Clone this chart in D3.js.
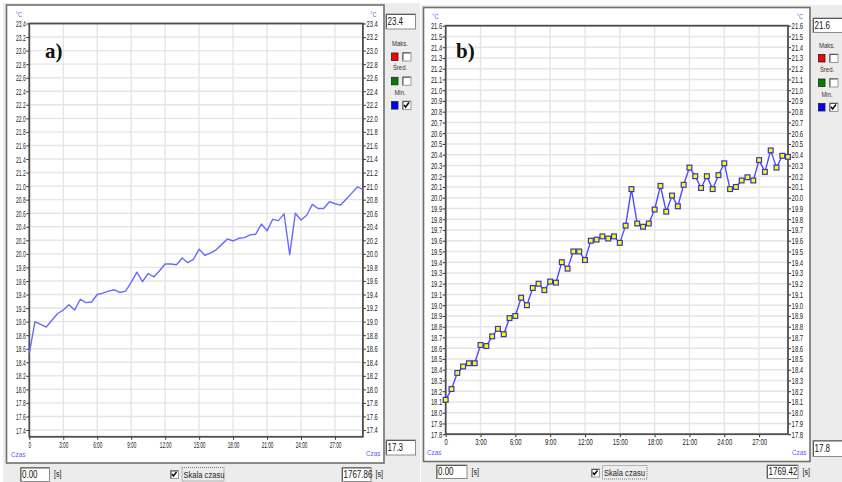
<!DOCTYPE html>
<html>
<head>
<meta charset="utf-8">
<script src="https://cdn.jsdelivr.net/npm/d3@7"></script>
<style>
  body { margin: 0; background: #fff; }
  svg { display: block; font-family: "Liberation Sans", Arial, sans-serif; }
</style>
</head>
<body>
<svg id="chart" width="842" height="482"></svg>
<script>
// ---- shared axis ticks ----
const xTickSeconds = [0, 180, 360, 540, 720, 900, 1080, 1260, 1440, 1620];
const xTickLabels = ["0", "3:00", "6:00", "9:00", "12:00", "15:00", "18:00", "21:00", "24:00", "27:00"];

// ---- panel a) ----
const yTicksA = [17.4, 17.6, 17.8, 18.0, 18.2, 18.4, 18.6, 18.8, 19.0, 19.2, 19.4, 19.6, 19.8, 20.0,
  20.2, 20.4, 20.6, 20.8, 21.0, 21.2, 21.4, 21.6, 21.8, 22.0, 22.2, 22.4, 22.6, 22.8, 23.0, 23.2, 23.4];
const yDomainA = [17.3, 23.4];
const durationA = 1767.86;
const timesA = [0, 30, 60, 90, 120, 150, 180, 210, 240, 270, 300, 330, 360, 390, 420, 450, 480, 510, 540, 570,
  600, 630, 660, 690, 720, 750, 780, 810, 840, 870, 900, 930, 960, 990, 1020, 1050, 1080, 1110, 1140, 1170,
  1200, 1230, 1260, 1290, 1320, 1350, 1380, 1410, 1440, 1470, 1500, 1530, 1560, 1590, 1620, 1650, 1680, 1710, 1740, 1767];
const tempsA = [18.53, 19.00, 18.96, 18.92, 19.02, 19.12, 19.17, 19.25, 19.17, 19.33,
  19.28, 19.29, 19.40, 19.42, 19.45, 19.47, 19.43, 19.45, 19.58, 19.73,
  19.59, 19.71, 19.66, 19.75, 19.85, 19.85, 19.84, 19.94, 19.87, 19.92,
  20.07, 19.98, 20.01, 20.06, 20.14, 20.22, 20.19, 20.23, 20.24, 20.28,
  20.29, 20.44, 20.34, 20.51, 20.49, 20.59, 19.99, 20.60, 20.50, 20.57,
  20.73, 20.67, 20.67, 20.77, 20.74, 20.72, 20.81, 20.90, 20.99, 20.95];

// ---- panel b) ----
const yTicksB = [17.8, 17.9, 18.0, 18.1, 18.2, 18.3, 18.4, 18.5, 18.6, 18.7, 18.8, 18.9, 19.0, 19.1, 19.2,
  19.3, 19.4, 19.5, 19.6, 19.7, 19.8, 19.9, 20.0, 20.1, 20.2, 20.3, 20.4, 20.5, 20.6, 20.7, 20.8, 20.9,
  21.0, 21.1, 21.2, 21.3, 21.4, 21.5, 21.6];
const yDomainB = [17.8, 21.6];
const durationB = 1769.42;
const timesB = [0, 30, 60, 90, 120, 150, 180, 210, 240, 270, 300, 330, 360, 390, 420, 450, 480, 510, 540, 570,
  600, 630, 660, 690, 720, 750, 780, 810, 840, 870, 900, 930, 960, 990, 1020, 1050, 1080, 1110, 1140, 1170,
  1200, 1230, 1260, 1290, 1320, 1350, 1380, 1410, 1440, 1470, 1500, 1530, 1560, 1590, 1620, 1650, 1680, 1710, 1740, 1769];
const tempsB = [18.12, 18.22, 18.37, 18.43, 18.46, 18.46, 18.63, 18.62, 18.71, 18.78,
  18.73, 18.88, 18.90, 19.07, 19.00, 19.16, 19.20, 19.14, 19.22, 19.21,
  19.40, 19.34, 19.50, 19.50, 19.42, 19.60, 19.61, 19.64, 19.62, 19.64,
  19.58, 19.74, 20.08, 19.76, 19.73, 19.76, 19.89, 20.11, 19.87, 20.02,
  19.92, 20.12, 20.28, 20.20, 20.09, 20.20, 20.08, 20.21, 20.32, 20.08,
  20.10, 20.16, 20.19, 20.16, 20.35, 20.24, 20.44, 20.28, 20.39, 20.38];

const legendLabels = ["Maks.", "Śred.", "Min."];
const legendColors = ["#ff0000", "#008000", "#0000ff"];
const legendChecked = [false, false, true];

const svg = d3.select("#chart");

// text squeezed horizontally, anchored at (x, y)
function sText(g, x, y, str, opts) {
  const o = Object.assign({ size: 8, sx: 0.7, anchor: "start", fill: "#222", weight: "normal" }, opts || {});
  return g.append("text")
    .attr("transform", `translate(${x},${y}) scale(${o.sx},1)`)
    .attr("text-anchor", o.anchor)
    .attr("dominant-baseline", "central")
    .attr("font-size", o.size)
    .attr("font-weight", o.weight)
    .attr("fill", o.fill)
    .text(str);
}

function inputBox(g, x, y, w, h, str, sx) {
  g.append("rect").attr("x", x + 0.5).attr("y", y + 0.5).attr("width", w).attr("height", h)
    .attr("fill", "#fff").attr("stroke", "#8c8c8c");
  g.append("path").attr("d", `M${x + 1},${y + h} V${y + 1} H${x + w}`)
    .attr("fill", "none").attr("stroke", "#5a5a5a");
  sText(g, x + 2, y + h / 2 + 0.5, str, { size: 10, sx: sx, fill: "#111" });
}

function checkBox(g, x, y, s, checked) {
  g.append("rect").attr("x", x + 0.5).attr("y", y + 0.5).attr("width", s).attr("height", s)
    .attr("fill", "#fff").attr("stroke", "#9a9a9a");
  g.append("path").attr("d", `M${x + 1},${y + s} V${y + 1} H${x + s}`)
    .attr("fill", "none").attr("stroke", "#555");
  if (checked) {
    g.append("path")
      .attr("d", `M${x + 2},${y + s * 0.5} L${x + s * 0.42},${y + s - 2} L${x + s - 1.5},${y + 2}`)
      .attr("fill", "none").attr("stroke", "#111").attr("stroke-width", 1.6);
  }
}

function drawPanel(cfg) {
  const g = svg.append("g");
  const L = cfg.layout;

  // window background and chart frame
  g.append("rect").attr("x", L.win[0]).attr("y", L.win[1]).attr("width", L.win[2]).attr("height", L.win[3])
    .attr("fill", "#ececec");
  g.append("rect").attr("x", L.frame[0]).attr("y", L.frame[1]).attr("width", L.frame[2]).attr("height", L.frame[3])
    .attr("fill", "#fff").attr("stroke", "#707070").attr("stroke-width", 1.6);

  const x = d3.scaleLinear().domain([0, cfg.duration]).range([L.left, L.right]);
  const y = d3.scaleLinear().domain(cfg.yDomain).range([L.bottom, L.top]);

  // grid
  g.append("g").selectAll("line").data(cfg.yTicks).join("line")
    .attr("x1", L.left).attr("x2", L.right)
    .attr("y1", d => y(d)).attr("y2", d => y(d))
    .attr("stroke", "#e6e6e6").attr("stroke-width", 1.4);
  g.append("g").selectAll("line").data(xTickSeconds.slice(1)).join("line")
    .attr("x1", d => x(d)).attr("x2", d => x(d))
    .attr("y1", L.top).attr("y2", L.bottom)
    .attr("stroke", "#e6e6e6").attr("stroke-width", 1.4);

  // axes
  const fmt = d3.format(".1f");
  const styleAxis = (sel, sx, tx, ty) => {
    sel.select(".domain").remove();
    sel.selectAll(".tick line").attr("stroke", "#333");
    sel.selectAll(".tick text")
      .attr("font-size", 8.5).attr("fill", "#1a1a1a")
      .attr("font-family", "Liberation Sans, Arial, sans-serif")
      .attr("transform", `scale(${sx},1)`)
      .attr("x", tx / sx)
      .attr("dy", null)
      .attr("y", ty)
      .attr("dominant-baseline", "central");
  };
  g.append("g").attr("transform", `translate(${L.left},0)`)
    .call(d3.axisLeft(y).tickValues(cfg.yTicks).tickFormat(fmt).tickSize(3).tickSizeOuter(0))
    .call(s => styleAxis(s, cfg.sxLeft, -3.6, 0));
  g.append("g").attr("transform", `translate(${L.right},0)`)
    .call(d3.axisRight(y).tickValues(cfg.yTicks).tickFormat(fmt).tickSize(3).tickSizeOuter(0))
    .call(s => styleAxis(s, cfg.sxRight, 3.6, 0));
  g.append("g").attr("transform", `translate(0,${L.bottom})`)
    .call(d3.axisBottom(x).tickValues(xTickSeconds).tickFormat((d, i) => xTickLabels[i]).tickSize(3).tickSizeOuter(0))
    .call(s => styleAxis(s, cfg.sxBottom, 0, L.xLabelDy));

  // plot border
  g.append("rect").attr("x", L.left).attr("y", L.top)
    .attr("width", L.right - L.left).attr("height", L.bottom - L.top)
    .attr("fill", "none").attr("stroke", "#4d4d4d").attr("stroke-width", 1.8);

  // measured series
  const pts = cfg.times.map((t, i) => [t, cfg.temps[i]]);
  g.append("path").datum(pts)
    .attr("d", d3.line().x(d => x(d[0])).y(d => y(d[1])))
    .attr("fill", "none").attr("stroke", cfg.lineColor).attr("stroke-width", 1.4)
    .attr("stroke-linejoin", "round");
  if (cfg.markers) {
    g.append("g").selectAll("rect").data(pts).join("rect")
      .attr("x", d => x(d[0]) - 2.4).attr("y", d => y(d[1]) - 2.4)
      .attr("width", 4.8).attr("height", 4.8)
      .attr("fill", "#ffff00").attr("stroke", "#3535c8").attr("stroke-width", 1.2);
  }

  // panel tag
  g.append("text").attr("x", L.tag[0]).attr("y", L.tag[1])
    .attr("font-family", "Liberation Serif, Times New Roman, serif")
    .attr("font-weight", "bold").attr("font-size", 21).attr("fill", "#111")
    .text(cfg.tag);

  // unit and axis captions
  const blue = "#5a5aff";
  sText(g, L.unitL[0], L.unitL[1], "°C", { size: 7.5, sx: 0.75, fill: blue, anchor: "middle" });
  sText(g, L.unitR[0], L.unitR[1], "°C", { size: 7.5, sx: 0.75, fill: blue, anchor: "middle" });
  sText(g, L.czasL[0], L.czasL[1], "Czas", { size: 8, sx: 0.8, fill: blue });
  sText(g, L.czasR[0], L.czasR[1], "Czas", { size: 8, sx: 0.8, fill: blue });

  // side controls
  inputBox(g, L.maxBox[0], L.maxBox[1], L.maxBox[2], L.maxBox[3], fmt(cfg.yDomain[1]), 0.8);
  inputBox(g, L.minBox[0], L.minBox[1], L.minBox[2], L.minBox[3], fmt(cfg.yDomain[0]), 0.8);
  legendLabels.forEach((lab, i) => {
    const yy = L.legendY + i * L.legendStep;
    sText(g, L.legendX + 9, yy, lab, { size: 7, sx: 0.85, fill: "#333", anchor: "middle" });
    g.append("rect").attr("x", L.legendX + 0.5).attr("y", yy + 9.5).attr("width", 6.5).attr("height", 7.5)
      .attr("fill", legendColors[i]).attr("stroke", "#222").attr("stroke-width", 0.8);
    checkBox(g, L.legendX + 11, yy + 8.5, 8.5, legendChecked[i]);
  });

  // bottom controls
  inputBox(g, L.startBox[0], L.startBox[1], L.startBox[2], L.startBox[3], "0.00", 0.8);
  sText(g, L.startBox[0] + L.startBox[2] + 5, L.startBox[1] + L.startBox[3] / 2 + 0.5, "[s]", { size: 9, sx: 0.8 });
  checkBox(g, L.scaleCheck[0], L.scaleCheck[1], 8, true);
  g.append("rect").attr("x", L.scaleBox[0] + 0.5).attr("y", L.scaleBox[1] + 0.5)
    .attr("width", L.scaleBox[2]).attr("height", L.scaleBox[3])
    .attr("fill", "none").attr("stroke", "#7a7a7a").attr("stroke-dasharray", "1,1");
  sText(g, L.scaleBox[0] + 2, L.scaleBox[1] + L.scaleBox[3] / 2 + 0.5, "Skala czasu", { size: 9.5, sx: 0.8 });
  inputBox(g, L.endBox[0], L.endBox[1], L.endBox[2], L.endBox[3], d3.format(".2f")(cfg.duration), 0.8);
  sText(g, L.endBox[0] + L.endBox[2] + 5, L.endBox[1] + L.endBox[3] / 2 + 0.5, "[s]", { size: 9, sx: 0.8 });
}

drawPanel({
  tag: "a)", times: timesA, temps: tempsA, yTicks: yTicksA, yDomain: yDomainA, duration: durationA,
  lineColor: "#6a6aff", markers: false, sxLeft: 0.58, sxRight: 0.68, sxBottom: 0.55,
  layout: {
    win: [3, 3, 417, 479], frame: [6.5, 5, 377.5, 458],
    left: 29.3, right: 362.9, top: 23.5, bottom: 436.8, xLabelDy: 8,
    tag: [45, 58], unitL: [19, 14], unitR: [373.5, 14], czasL: [11, 454], czasR: [366, 453],
    maxBox: [385.5, 13.5, 29.5, 15], minBox: [385.5, 439.5, 29.5, 15],
    legendX: 391, legendY: 43.5, legendStep: 24.3,
    startBox: [20, 467, 29, 14], scaleCheck: [170, 470], scaleBox: [181.5, 467, 42, 13.5], endBox: [341.5, 467, 29, 14]
  }
});

drawPanel({
  tag: "b)", times: timesB, temps: tempsB, yTicks: yTicksB, yDomain: yDomainB, duration: durationB,
  lineColor: "#4d4dff", markers: true, sxLeft: 0.68, sxRight: 0.7, sxBottom: 0.7,
  layout: {
    win: [421, 5, 421, 477], frame: [423.5, 7.5, 386.5, 454],
    left: 445.7, right: 788, top: 25.7, bottom: 434.2, xLabelDy: 8,
    tag: [456, 58], unitL: [435.5, 16], unitR: [800, 16.5], czasL: [427, 452], czasR: [792, 452],
    maxBox: [812.5, 17.5, 29.5, 14.5], minBox: [812.5, 440, 29.5, 16],
    legendX: 818, legendY: 45, legendStep: 24.5,
    startBox: [436, 464.5, 30.5, 13.5], scaleCheck: [591, 468.5], scaleBox: [602, 465, 44.5, 13.5], endBox: [766.5, 464.5, 31, 13.5]
  }
});
</script>
</body>
</html>
